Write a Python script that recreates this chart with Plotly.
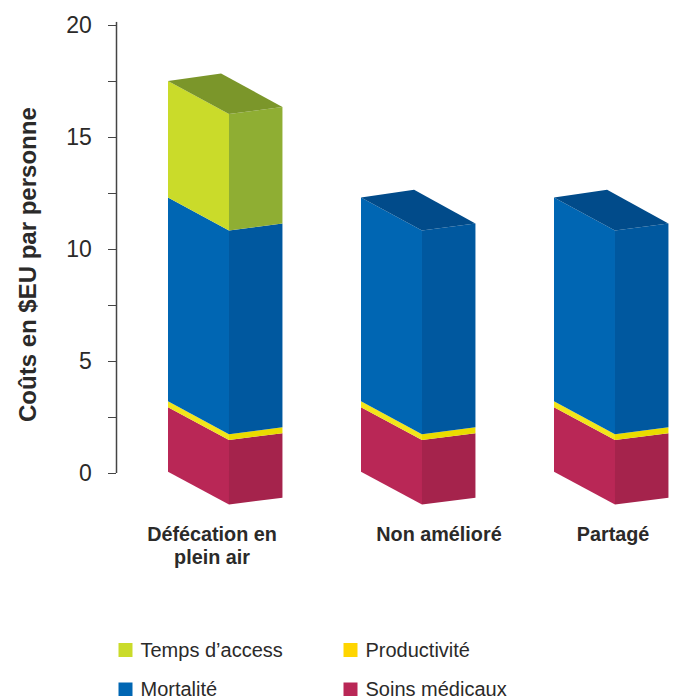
import plotly.graph_objects as go

# Costs in US$ per person, one list per stacked component
categories = ["Défécation en<br>plein air", "Non amélioré", "Partagé"]
label_centres = [0.228, 1.404, 2.306]
soins_medicaux = [2.88, 2.88, 2.88]
productivite = [0.26, 0.26, 0.26]
mortalite = [9.1, 9.1, 9.1]
temps_acces = [5.2, 0, 0]
y_ticks = [0, 5, 10, 15, 20]

FONT = "Liberation Sans"
INK = "#2b2a29"

# name, values, front face, side face, top face, legend swatch
components = [
    ("Soins médicaux", soins_medicaux, "#b92756", "#a5234c", "#8f1f43", "#b92756"),
    ("Productivité", productivite, "#f2e51b", "#eadb00", "#c9bc00", "#ffd500"),
    ("Mortalité", mortalite, "#0066b3", "#00589f", "#014b8a", "#0066b3"),
    ("Temps d’access", temps_acces, "#cadb2a", "#8fae33", "#7b962a", "#cadb2a"),
]

# Oblique projection of each box, in axis units
FRONT_W, SIDE_W, BACK_W = 0.316, 0.277, 0.275
FRONT_DROP, SIDE_RISE, BACK_RISE = 1.47, 0.31, 0.34
BASE = 0.06

# Page layout in pixels
W, H = 678, 696
PX_PER_UNIT, ZERO_PX = 22.4, 473
Y_LOW, Y_HIGH = -1.6, 20.15
LEFT_PX, RIGHT_PX, BAR0_PX, BAR_STEP_PX = 116.5, 670, 168, 193


def face(fig, xs, ys, colour, name):
    fig.add_trace(go.Scatter(
        x=xs + xs[:1], y=ys + ys[:1], mode="lines", fill="toself",
        fillcolor=colour, line=dict(width=0, color=colour),
        name=name, showlegend=False, hoverinfo="name",
    ))


fig = go.Figure()
for i in range(len(categories)):
    bottom = BASE
    top_colour = None
    for name, values, front, side, top, _ in components:
        v = values[i]
        if v <= 0:
            continue
        upper = bottom + v
        xa, xb, xc = i, i + FRONT_W, i + FRONT_W + SIDE_W
        face(fig, [xa, xb, xb, xa],
             [bottom, bottom - FRONT_DROP, upper - FRONT_DROP, upper], front, name)
        face(fig, [xb, xc, xc, xb],
             [bottom - FRONT_DROP, bottom - FRONT_DROP + SIDE_RISE,
              upper - FRONT_DROP + SIDE_RISE, upper - FRONT_DROP], side, name)
        bottom, top_colour = upper, top
    face(fig, [i, i + BACK_W, i + FRONT_W + SIDE_W, i + FRONT_W],
         [bottom, bottom + BACK_RISE, bottom - FRONT_DROP + SIDE_RISE, bottom - FRONT_DROP],
         top_colour, "Total")

# Two-column key on its own pixel-scaled axes at the foot of the page
key_slots = {"Temps d’access": (125.5, 650), "Productivité": (350.5, 650),
             "Mortalité": (125.5, 689.5), "Soins médicaux": (350.5, 689.5)}
for name, _, _, _, _, swatch in components:
    kx, ky = key_slots[name]
    fig.add_trace(go.Scatter(
        x=[kx], y=[ky], mode="markers", xaxis="x2", yaxis="y2", name=name,
        marker=dict(symbol="square", size=14, color=swatch, line=dict(width=0)),
        showlegend=False, hoverinfo="name",
    ))
    fig.add_trace(go.Scatter(
        x=[kx + 15], y=[ky + 1.5], mode="text", xaxis="x2", yaxis="y2", text=[name],
        textposition="middle right", textfont=dict(family=FONT, size=20, color=INK),
        showlegend=False, hoverinfo="skip", cliponaxis=False,
    ))

# The tick font sets the line pitch; the span sets the glyph size of the bold labels
category_labels = [f'<b><span style="font-size:19.8px">{c.replace("<br>", "</span><br><span style=\"font-size:19.8px\">")}</span></b>'
                   for c in categories]

fig.update_layout(
    width=W, height=H, margin=dict(l=0, r=0, t=0, b=0),
    paper_bgcolor="white", plot_bgcolor="white", showlegend=False,
    font=dict(family=FONT, color=INK),
    xaxis=dict(
        automargin=False,
        domain=[LEFT_PX / W, RIGHT_PX / W],
        range=[(LEFT_PX - BAR0_PX) / BAR_STEP_PX, (RIGHT_PX - BAR0_PX) / BAR_STEP_PX],
        tickmode="array", tickvals=label_centres, ticktext=category_labels,
        tickfont=dict(family=FONT, size=18, color=INK), ticks="", ticklabelstandoff=13,
        showgrid=False, zeroline=False, showline=False,
    ),
    yaxis=dict(
        automargin=False,
        domain=[1 - (ZERO_PX - Y_LOW * PX_PER_UNIT) / H, 1 - (ZERO_PX - Y_HIGH * PX_PER_UNIT) / H],
        range=[Y_LOW, Y_HIGH], tickmode="array", tickvals=y_ticks,
        minor=dict(dtick=2.5, ticks="outside", ticklen=8, tickwidth=1.4, tickcolor="#444444", showgrid=False),
        ticks="outside", ticklen=8, tickwidth=1.4, tickcolor="#444444",
        tickfont=dict(family=FONT, size=23, color=INK), ticklabelstandoff=11,
        showgrid=False, zeroline=False, showline=False,
    ),
    xaxis2=dict(domain=[0, 1], range=[0, W], visible=False, anchor="y2", automargin=False),
    yaxis2=dict(domain=[0, 66 / H], range=[H, H - 66], visible=False, anchor="x2", automargin=False),
    shapes=[dict(type="line", xref="x domain", x0=0, x1=0, yref="y", y0=0, y1=Y_HIGH,
                 line=dict(color="#444444", width=1.5))],
    annotations=[dict(
        text="<b>Coûts en $EU par personne</b>", textangle=-90, showarrow=False,
        xref="paper", yref="paper", x=27 / W, y=1 - 265 / H,
        xanchor="center", yanchor="middle",
        font=dict(family=FONT, size=24, color=INK),
    )],
)

fig.write_html("out.html", config=dict(displayModeBar=False))
